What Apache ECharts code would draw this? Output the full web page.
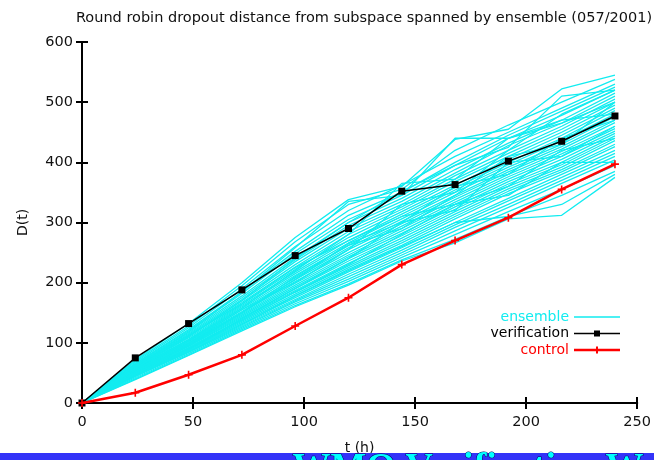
<!DOCTYPE html>
<html>
<head>
<meta charset="utf-8">
<script src="https://cdn.jsdelivr.net/npm/echarts@6/dist/echarts.min.js"></script>
<style>html,body{margin:0;padding:0;background:#fff;}#c{width:654px;height:460px;}</style>
</head>
<body>
<div id="c"></div>
<script>
const tHours = [0, 24, 48, 72, 96, 120, 144, 168, 192, 216, 240];
const verification = [0, 75, 132, 188, 245, 290, 352, 363, 402, 435, 477];
const control = [0, 17, 47, 80, 128, 175, 230, 270, 308, 355, 397];
const ensemble = [
  [0,72,132,200,275,338,360,438,455,522,545],
  [0,70,128,195,268,330,355,420,462,500,538],
  [0,68,125,190,260,320,362,410,450,490,530],
  [0,66,122,185,252,312,350,400,445,485,525],
  [0,65,120,182,248,305,345,395,440,478,520],
  [0,64,118,178,242,300,340,388,432,470,515],
  [0,63,116,175,238,295,335,382,428,465,510],
  [0,62,114,172,235,290,330,378,420,460,505],
  [0,61,112,170,230,285,326,372,415,455,500],
  [0,60,110,167,226,280,322,368,410,450,495],
  [0,59,108,164,222,275,318,362,405,445,490],
  [0,58,106,162,218,270,314,358,400,440,486],
  [0,57,105,160,215,266,310,354,396,436,480],
  [0,56,103,157,212,262,306,350,392,430,476],
  [0,55,102,155,208,258,302,345,388,426,470],
  [0,55,100,152,205,255,298,342,384,422,466],
  [0,54,99,150,202,250,294,338,380,418,460],
  [0,53,97,148,199,246,290,334,376,414,456],
  [0,52,96,146,196,243,286,330,372,410,452],
  [0,52,95,144,193,240,282,326,368,405,448],
  [0,51,94,142,190,236,278,322,364,400,444],
  [0,50,92,140,187,232,274,318,360,396,440],
  [0,50,91,138,184,228,270,314,356,392,436],
  [0,49,90,136,181,225,266,310,352,388,430],
  [0,48,89,134,178,222,262,306,348,384,426],
  [0,47,88,132,175,218,258,300,340,380,420],
  [0,46,86,130,172,214,254,296,336,375,415],
  [0,45,85,128,170,210,250,292,330,370,410],
  [0,44,84,126,168,206,246,286,325,365,404],
  [0,42,82,124,165,202,242,280,318,355,395],
  [0,40,80,122,162,198,238,272,310,345,385],
  [0,39,79,120,160,196,236,266,306,312,375],
  [0,60,118,185,258,335,345,440,440,470,480],
  [0,57,104,158,220,280,365,372,440,465,500],
  [0,50,96,150,205,265,300,360,380,440,470],
  [0,45,88,140,190,240,300,320,400,410,460],
  [0,62,112,165,225,270,310,330,360,420,440],
  [0,55,100,155,200,255,330,350,420,480,520],
  [0,48,92,138,185,230,280,330,345,400,400],
  [0,52,98,150,210,262,290,345,410,430,500],
  [0,58,110,170,240,300,352,395,425,510,520],
  [0,44,86,130,178,220,260,300,310,330,380]
];
const xTicks = [0, 50, 100, 150, 200, 250];
const yTicks = [0, 100, 200, 300, 400, 500, 600];
const titleText = 'Round robin dropout distance from subspace spanned by ensemble (057/2001)';
const names = {ens: 'ensemble', ver: 'verification', ctl: 'control'};
const bannerText = 'WMO Verification Web';

const FONT = 'DejaVu Sans';
const CYAN = '#12ecf0';
const pair = arr => arr.map((v, i) => [tHours[i], v]);

// legend icons: corner specks fix the box, a bar for the line, plus the marker
const corners = 'M0,0L0.01,0L0,0.01Z M46,14L45.99,14L46,13.99Z ';
const iconEns = 'path://' + corners + 'M0,6.3H46V7.7H0Z';
const iconVer = 'path://' + corners + 'M0,6.25H46V7.75H0Z M20,4H26V10H20Z';
const iconCtl = 'path://' + corners + 'M0,5.75H46V8.25H0Z M22,3.5H24V10.5H22Z';

const series = [];
ensemble.forEach(row => {
  series.push({
    type: 'line', name: names.ens, data: pair(row),
    showSymbol: false, symbol: 'none', silent: true,
    lineStyle: {color: CYAN, width: 1.3}, itemStyle: {color: CYAN},
    z: 1, animation: false
  });
});
series.push({
  type: 'line', name: names.ver, data: pair(verification),
  symbol: 'rect', symbolSize: 7,
  lineStyle: {color: '#000', width: 1.5}, itemStyle: {color: '#000'},
  z: 3, animation: false
});
series.push({
  type: 'line', name: names.ctl, data: pair(control),
  symbol: 'path://M4,0H6V4H10V6H6V10H4V6H0V4H4Z', symbolSize: 8,
  lineStyle: {color: '#ff0000', width: 2.5}, itemStyle: {color: '#ff0000'},
  z: 4, animation: false
});

const axisCommon = {
  axisLine: {show: true, lineStyle: {color: '#000', width: 2}},
  axisTick: {show: true, inside: true, length: 6, lineStyle: {color: '#000', width: 2}},
  splitLine: {show: false}
};

const chart = echarts.init(document.getElementById('c'), null, {renderer: 'canvas'});
chart.setOption({
  backgroundColor: '#fff',
  animation: false,
  title: {
    text: titleText, left: 364, top: 11, textAlign: 'center', padding: 0,
    textStyle: {fontFamily: FONT, fontSize: 14.5, fontWeight: 'normal', color: '#111'}
  },
  legend: {
    orient: 'vertical', right: 29, top: 305, align: 'right',
    itemWidth: 46, itemHeight: 14, itemGap: 2.5,
    textStyle: {fontFamily: FONT, fontSize: 14},
    data: [
      {name: names.ens, icon: iconEns, itemStyle: {color: CYAN}, textStyle: {color: CYAN}},
      {name: names.ver, icon: iconVer, itemStyle: {color: '#000'}, textStyle: {color: '#000'}},
      {name: names.ctl, icon: iconCtl, itemStyle: {color: '#ff0000'}, textStyle: {color: '#ff0000'}}
    ],
    selectedMode: false
  },
  grid: {left: 82, right: 10, top: 42, bottom: 53},
  xAxis: [
    Object.assign({}, axisCommon, {
      type: 'value', position: 'bottom', min: xTicks[0], max: xTicks[xTicks.length - 1], interval: 50,
      name: 't (h)', nameLocation: 'middle', nameGap: 38,
      nameTextStyle: {fontFamily: FONT, fontSize: 14, color: '#111'},
      axisLabel: {fontFamily: FONT, fontSize: 14.5, color: '#111', margin: 12}
    }),
    Object.assign({}, axisCommon, {
      type: 'value', position: 'top', min: xTicks[0], max: xTicks[xTicks.length - 1], interval: 50,
      axisLabel: {show: false}
    })
  ],
  yAxis: [
    Object.assign({}, axisCommon, {
      type: 'value', position: 'left', min: yTicks[0], max: yTicks[yTicks.length - 1], interval: 100,
      name: 'D(t)', nameLocation: 'middle', nameGap: 52, nameRotate: 90,
      nameTextStyle: {fontFamily: FONT, fontSize: 14, color: '#111'},
      axisLabel: {fontFamily: FONT, fontSize: 14.5, color: '#111', margin: 9}
    }),
    Object.assign({}, axisCommon, {
      type: 'value', position: 'right', min: yTicks[0], max: yTicks[yTicks.length - 1], interval: 100,
      axisLabel: {show: false}
    })
  ],
  graphic: [
    {type: 'rect', left: 0, top: 453, shape: {width: 654, height: 7}, style: {fill: '#3333f8'}, z: 10},
    {type: 'text', left: 292, top: 450, z: 11,
     style: {text: bannerText, fill: '#00ffff', stroke: '#000060', lineWidth: 1,
             font: 'bold 38px "Liberation Serif"'}}
  ],
  series: series
});
</script>
</body>
</html>
